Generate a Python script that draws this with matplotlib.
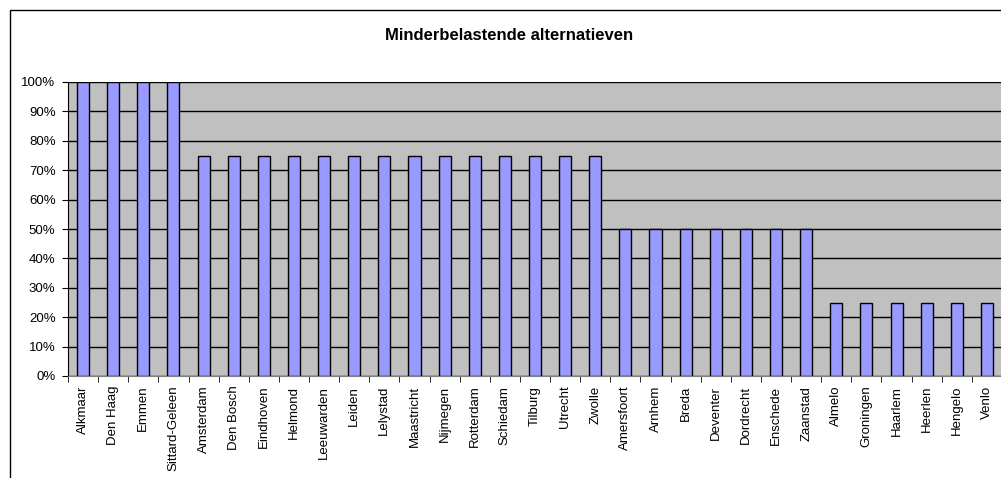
import matplotlib.pyplot as plt
import numpy as np
from matplotlib.patches import Rectangle
from matplotlib.ticker import FixedLocator, PercentFormatter

plt.rcParams['font.family'] = ['Liberation Sans', 'DejaVu Sans']

# gemeenten en aandeel minderbelastende alternatieven
steden = ['Alkmaar', 'Den Haag', 'Emmen', 'Sittard-Geleen', 'Amsterdam', 'Den Bosch',
          'Eindhoven', 'Helmond', 'Leeuwarden', 'Leiden', 'Lelystad', 'Maastricht',
          'Nijmegen', 'Rotterdam', 'Schiedam', 'Tilburg', 'Utrecht', 'Zwolle',
          'Amersfoort', 'Arnhem', 'Breda', 'Deventer', 'Dordrecht', 'Enschede',
          'Zaanstad', 'Almelo', 'Groningen', 'Haarlem', 'Heerlen', 'Hengelo', 'Venlo']
aandeel = [100, 100, 100, 100, 75, 75, 75, 75, 75, 75, 75, 75, 75, 75, 75, 75, 75, 75,
           50, 50, 50, 50, 50, 50, 50, 25, 25, 25, 25, 25, 25]

fig = plt.figure(figsize=(10.01, 4.78), dpi=100)
ax = fig.add_axes([68 / 1001, 102 / 478, 934 / 1001, 294 / 478])

# kader om de hele grafiek (valt deels buiten beeld)
fig.patches.append(Rectangle((10 / 1001, -0.5), 2, 1.5 - 10 / 478,
                             transform=fig.transFigure, fill=False,
                             edgecolor='black', linewidth=1))

x = np.arange(len(steden))
ax.set_facecolor('#c0c0c0')
ax.bar(x, aandeel, width=0.4, color='#9999ff', edgecolor='black', linewidth=1, zorder=3)

ax.set_xlim(-0.5, len(steden) - 0.5)
ax.set_ylim(0, 100)
ax.set_yticks(np.arange(0, 101, 10))
ax.yaxis.set_major_formatter(PercentFormatter(decimals=0))
ax.yaxis.grid(True, color='black', linewidth=1, zorder=1)
ax.set_axisbelow(True)

ax.set_xticks(x)
ax.set_xticklabels(steden, rotation=90)
ax.xaxis.set_minor_locator(FixedLocator(np.arange(-0.5, len(steden), 1)))
ax.tick_params(axis='x', which='major', length=0, pad=7, labelsize=9.5)
ax.tick_params(axis='x', which='minor', length=4, direction='out')
ax.tick_params(axis='y', length=4, direction='out', labelsize=9.5, pad=5)

ax.spines['top'].set_visible(False)
ax.spines['right'].set_visible(False)
ax.spines['bottom'].set_color('#808080')
ax.spines['left'].set_color('black')

fig.text(0.509, 1 - 35 / 478, 'Minderbelastende alternatieven', ha='center', va='center',
         fontsize=12, fontweight='bold')

fig.savefig('out.png', dpi=100)
